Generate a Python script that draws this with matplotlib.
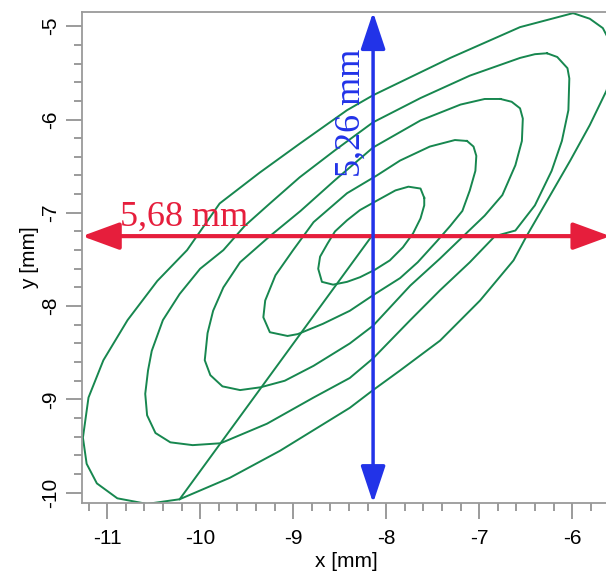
import matplotlib.pyplot as plt
from matplotlib.ticker import MultipleLocator

plt.rcParams['axes.unicode_minus'] = False
plt.rcParams['font.family'] = ['Liberation Sans', 'DejaVu Sans']

# --------- contour rings, inner to outer (mm) ---------
ring1_x = [-7.59, -7.63, -7.76, -7.90, -8.10, -8.28, -8.42, -8.55, -8.63, -8.71, -8.73,
           -8.69, -8.57, -8.42, -8.28, -8.12, -7.96, -7.82, -7.71, -7.63, -7.59]
ring1_y = [-6.84, -6.74, -6.72, -6.76, -6.87, -6.97, -7.08, -7.20, -7.33, -7.47, -7.60,
           -7.74, -7.77, -7.74, -7.69, -7.61, -7.51, -7.37, -7.22, -7.06, -6.92]

ring2_x = [-7.13, -7.06, -7.03, -7.04, -7.10, -7.18, -7.31, -7.45, -7.66, -7.85, -8.12,
           -8.39, -8.68, -8.95, -9.06, -9.25, -9.32, -9.30, -9.19, -9.00, -8.78, -8.42,
           -8.10, -7.85, -7.53, -7.26]
ring2_y = [-6.23, -6.29, -6.39, -6.55, -6.76, -6.98, -7.14, -7.30, -7.53, -7.70, -7.87,
           -8.05, -8.19, -8.30, -8.32, -8.28, -8.12, -7.94, -7.67, -7.40, -7.10, -6.79,
           -6.60, -6.44, -6.29, -6.22]

ring3_x = [-6.77, -6.65, -6.56, -6.53, -6.54, -6.61, -6.75, -6.94, -7.17, -7.42, -7.74,
           -8.14, -8.39, -8.78, -9.09, -9.35, -9.57, -9.76, -9.89, -9.95, -9.92, -9.86,
           -9.75, -9.57, -9.25, -8.92, -8.55, -8.14, -7.63, -7.20, -6.94]
ring3_y = [-5.78, -5.81, -5.88, -5.99, -6.23, -6.49, -6.81, -7.03, -7.25, -7.49, -7.78,
           -8.21, -8.40, -8.64, -8.80, -8.87, -8.90, -8.86, -8.74, -8.58, -8.29, -8.05,
           -7.80, -7.53, -7.25, -6.98, -6.65, -6.30, -6.01, -5.84, -5.78]

ring4_x = [-6.27, -6.16, -6.05, -6.03, -6.04, -6.11, -6.22, -6.40, -6.61, -6.83, -7.10,
           -7.42, -7.74, -8.14, -8.39, -8.78, -9.28, -9.78, -10.08, -10.32, -10.48,
           -10.57, -10.59, -10.56, -10.52, -10.40, -10.22, -10.00, -9.75, -9.52, -9.25,
           -8.93, -8.55, -8.14, -7.63, -7.10, -6.56, -6.40]
ring4_y = [-5.29, -5.33, -5.45, -5.56, -5.90, -6.23, -6.55, -6.92, -7.19, -7.25, -7.53,
           -7.83, -8.15, -8.56, -8.77, -8.98, -9.26, -9.47, -9.49, -9.46, -9.36,
           -9.17, -8.94, -8.69, -8.48, -8.15, -7.87, -7.60, -7.40, -7.14, -6.90,
           -6.62, -6.33, -6.03, -5.77, -5.53, -5.34, -5.30]

ring5_x = [-5.99, -5.81, -5.67, -5.57, -5.55, -5.63, -5.81, -6.02, -6.24, -6.49, -6.63,
           -6.99, -7.42, -7.85, -8.14, -8.39, -9.14, -9.68, -10.22, -10.57, -10.89,
           -11.11, -11.22, -11.26, -11.20, -11.04, -10.78, -10.46, -10.14, -9.79, -9.36,
           -8.93, -8.42, -8.14, -7.31, -6.56]
ring5_y = [-4.86, -4.92, -5.02, -5.21, -5.42, -5.69, -6.06, -6.44, -6.82, -7.25, -7.51,
           -7.94, -8.37, -8.69, -8.90, -9.09, -9.55, -9.84, -10.07, -10.12, -10.06,
           -9.90, -9.69, -9.41, -8.98, -8.58, -8.15, -7.73, -7.40, -6.90, -6.57,
           -6.26, -5.90, -5.74, -5.34, -5.01]

# straight segment from the outer ring into the centre
seg_x = [-10.22, -8.14]
seg_y = [-10.07, -7.23]

# --------- measured extents (mm) ---------
x_start, width_mm = -11.27, 5.68
y_start, height_mm = -10.11, 5.26
arrow_y = -7.25   # horizontal measurement line
arrow_x = -8.14   # vertical measurement line

rings = [(ring1_x, ring1_y), (ring2_x, ring2_y), (ring3_x, ring3_y),
         (ring4_x, ring4_y), (ring5_x, ring5_y)]

# --------- figure ---------
fig = plt.figure(figsize=(6.06, 5.73), dpi=100)
ax = fig.add_axes([0.1353, 0.1222, 0.8717, 0.8565])

green = '#17874f'
for rx, ry in rings:
    ax.plot(rx + rx[:1], ry + ry[:1], color=green, lw=1.4, solid_joinstyle='round')
ax.plot(seg_x, seg_y, color=green, lw=1.4)

ax.set_xlim(x_start, x_start + width_mm)
ax.set_ylim(y_start, y_start + height_mm)

# measurement arrows
red = '#e61e3c'
blue = '#2233e8'
ax.annotate('', xy=(x_start + width_mm, arrow_y), xytext=(x_start, arrow_y),
            arrowprops=dict(arrowstyle='<|-|>,head_length=0.6,head_width=0.22',
                            mutation_scale=38, lw=3, color=red,
                            shrinkA=0, shrinkB=0))
ax.annotate('', xy=(arrow_x, y_start + height_mm), xytext=(arrow_x, y_start),
            arrowprops=dict(arrowstyle='<|-|>,head_length=0.6,head_width=0.2',
                            mutation_scale=38, lw=2.5, color=blue,
                            shrinkA=0, shrinkB=0))

ax.text(-10.86, -7.14, '{:.2f} mm'.format(width_mm).replace('.', ','),
        color=red, fontsize=26, family='Liberation Serif',
        ha='left', va='baseline')
ax.text(-8.28, -6.62, '{:.2f} mm'.format(height_mm).replace('.', ','),
        color=blue, fontsize=26, family='Liberation Serif', rotation=90,
        rotation_mode='anchor', ha='left', va='baseline')

# axes styling
for side in ['left', 'bottom', 'top']:
    ax.spines[side].set_color('#9a9a9a')
    ax.spines[side].set_linewidth(1.3)
ax.spines['right'].set_visible(False)

ax.xaxis.set_major_locator(MultipleLocator(1))
ax.xaxis.set_minor_locator(MultipleLocator(0.2))
ax.yaxis.set_major_locator(MultipleLocator(1))
ax.yaxis.set_minor_locator(MultipleLocator(0.2))
ax.tick_params(which='both', direction='out', color='#8a8a8a', width=1.2,
               top=False, right=False)
ax.tick_params(which='major', length=11.5, labelsize=15)
ax.tick_params(axis='x', which='major', pad=7)
ax.tick_params(axis='y', which='major', pad=4, labelrotation=90)
ax.tick_params(which='minor', length=6)
for lab in ax.get_yticklabels():
    lab.set_va('center')

ax.set_xlabel('x [mm]', fontsize=15)
ax.set_ylabel('y [mm]', fontsize=15)
ax.xaxis.set_label_coords(0.5, -0.10)
ax.xaxis.label.set_va('top')
ax.yaxis.set_label_coords(-0.081, 0.5)

fig.savefig('out.png', dpi=100)
